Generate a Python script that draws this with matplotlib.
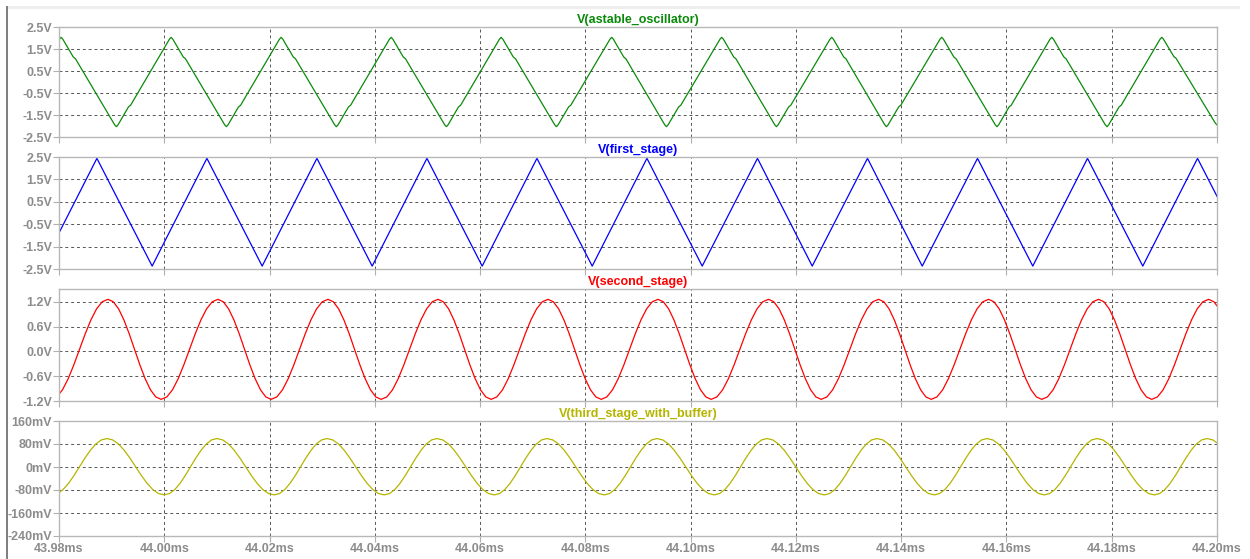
import numpy as np
import matplotlib
matplotlib.use('Agg')
import matplotlib.pyplot as plt
from matplotlib.patches import Rectangle

# time axis (ms)
x_ticks = [43.98, 44.00, 44.02, 44.04, 44.06, 44.08, 44.10, 44.12, 44.14, 44.16, 44.18, 44.20]
x_labels = ['43.98ms', '44.00ms', '44.02ms', '44.04ms', '44.06ms', '44.08ms',
            '44.10ms', '44.12ms', '44.14ms', '44.16ms', '44.18ms', '44.20ms']

# extrema of each trace (time in ms, value)
green_t = [43.9700, 43.9804, 43.9909, 44.0013, 44.0118, 44.0222, 44.0327, 44.0431,
           44.0536, 44.0640, 44.0745, 44.0850, 44.0954, 44.1059, 44.1163, 44.1268,
           44.1372, 44.1477, 44.1582, 44.1686, 44.1791, 44.1895, 44.2000]
green_v = [-2.03, 2.03, -2.03, 2.03, -2.03, 2.03, -2.03, 2.03, -2.03, 2.03, -2.03, 2.03,
           -2.03, 2.03, -2.03, 2.03, -2.03, 2.03, -2.03, 2.03, -2.03, 2.03, -1.95]

blue_t = [43.9768, 43.9872, 43.9977, 44.0081, 44.0186, 44.0290, 44.0395, 44.0499,
          44.0604, 44.0708, 44.0813, 44.0917, 44.1022, 44.1127, 44.1231, 44.1336,
          44.1440, 44.1545, 44.1650, 44.1754, 44.1859, 44.1963, 44.2068]
blue_v = [-2.37, 2.44, -2.37, 2.44, -2.37, 2.44, -2.37, 2.44, -2.37, 2.44, -2.37, 2.44,
          -2.37, 2.44, -2.37, 2.44, -2.37, 2.44, -2.37, 2.44, -2.37, 2.44, -2.37]

red_t = [43.9785, 43.9893, 43.9994, 44.0102, 44.0203, 44.0311, 44.0412, 44.0520,
         44.0621, 44.0729, 44.0830, 44.0938, 44.1039, 44.1148, 44.1248, 44.1357,
         44.1457, 44.1566, 44.1667, 44.1775, 44.1876, 44.1984, 44.2085]
red_v = [-1.16, 1.26, -1.16, 1.26, -1.16, 1.26, -1.16, 1.26, -1.16, 1.26, -1.16, 1.26,
         -1.16, 1.26, -1.16, 1.26, -1.16, 1.26, -1.16, 1.26, -1.16, 1.26, -1.16]

yellow_t = [43.9787, 43.9891, 44.0000, 44.0100, 44.0209, 44.0309, 44.0418, 44.0518,
            44.0627, 44.0727, 44.0836, 44.0936, 44.1045, 44.1145, 44.1254, 44.1354,
            44.1463, 44.1563, 44.1672, 44.1772, 44.1881, 44.1981, 44.2090]
yellow_v = [-97, 99, -97, 99, -97, 99, -97, 99, -97, 99, -97, 99,
            -97, 99, -97, 99, -97, 99, -97, 99, -97, 99, -97]

# shape of one swing between two extrema (fraction of time, fraction of swing)
tri_s = [0.0, 0.03, 0.22, 0.26, 0.97, 1.0]
tri_p = [0.0, 0.02, 0.22, 0.24, 0.98, 1.0]
lin_s = [0.0, 1.0]
lin_p = [0.0, 1.0]
round_s = [0.0, 0.1, 0.2, 0.3, 0.4, 0.5, 0.6, 0.7, 0.8, 0.9, 1.0]
round_p = [0.0, 0.024, 0.095, 0.206, 0.345, 0.5, 0.655, 0.794, 0.905, 0.976, 1.0]

titles = ['V(astable_oscillator)', 'V(first_stage)', 'V(second_stage)', 'V(third_stage_with_buffer)']
colors = ['#0a8a0a', '#0000ff', '#ff0000', '#b5b500']

y1_ticks = [-2.5, -1.5, -0.5, 0.5, 1.5, 2.5]
y1_labels = ['-2.5V', '-1.5V', '-0.5V', '0.5V', '1.5V', '2.5V']
y3_ticks = [-1.2, -0.6, 0.0, 0.6, 1.2]
y3_labels = ['-1.2V', '-0.6V', '0.0V', '0.6V', '1.2V']
y4_ticks = [-240, -160, -80, 0, 80, 160]
y4_labels = ['-240mV', '-160mV', '-80mV', '0mV', '80mV', '160mV']


def build(times, values, s_shape, p_shape):
    ts, vs = [times[0]], [values[0]]
    for i in range(len(times) - 1):
        t0, t1 = times[i], times[i + 1]
        v0, v1 = values[i], values[i + 1]
        for s, p in zip(s_shape[1:], p_shape[1:]):
            ts.append(t0 + s * (t1 - t0))
            vs.append(v0 + p * (v1 - v0))
    return ts, vs


plt.rcParams['font.family'] = ['Liberation Sans', 'DejaVu Sans']
fig = plt.figure(figsize=(12.5, 5.59), dpi=100)
fig.patch.set_facecolor('white')

# window frame bits
fig.add_artist(Rectangle((7 / 1250, 1 - 9 / 559), 1233 / 1250, 3 / 559,
                         transform=fig.transFigure, color='#eeeeee', lw=0))
fig.add_artist(Rectangle((6 / 1250, 0), 2 / 1250, 1 - 6 / 559,
                         transform=fig.transFigure, color='#808080', lw=0))

left, width = 59 / 1250, 1158 / 1250
boxes = [(27, 137), (157, 269), (289, 401), (421, 536)]
traces = [build(green_t, green_v, tri_s, tri_p),
          build(blue_t, blue_v, lin_s, lin_p),
          build(red_t, red_v, round_s, round_p),
          build(yellow_t, yellow_v, round_s, round_p)]
ylims = [(-2.5, 2.5), (-2.5, 2.5), (-1.2, 1.51), (-240, 160)]
yticks = [(y1_ticks, y1_labels), (y1_ticks, y1_labels), (y3_ticks, y3_labels), (y4_ticks, y4_labels)]

tick_col = '#8c8c8c'
for k in range(4):
    top, bot = boxes[k]
    ax = fig.add_axes([left, 1 - bot / 559, width, (bot - top) / 559])
    t, v = traces[k]
    ax.plot(t, v, color=colors[k], lw=0.9)
    ax.set_xlim(43.98, 44.20)
    ax.set_ylim(*ylims[k])
    ax.set_xticks(x_ticks)
    if k == 3:
        ax.set_xticklabels(x_labels, fontweight='bold')
    else:
        ax.set_xticklabels([])
    ax.set_yticks(yticks[k][0])
    ax.set_yticklabels(yticks[k][1], fontweight='bold')
    ax.tick_params(colors='#b0b0b0', labelcolor=tick_col, labelsize=9,
                   length=4, width=0.8, pad=1)
    ax.grid(True, color='#555555', linestyle=(0, (3, 3)), lw=0.7)
    for sp in ax.spines.values():
        sp.set_color('#b8b8b8')
        sp.set_linewidth(1.0)
    ax.set_title(titles[k], color=colors[k], fontsize=9, fontweight='bold', pad=3)

fig.savefig('out.png', dpi=100)
